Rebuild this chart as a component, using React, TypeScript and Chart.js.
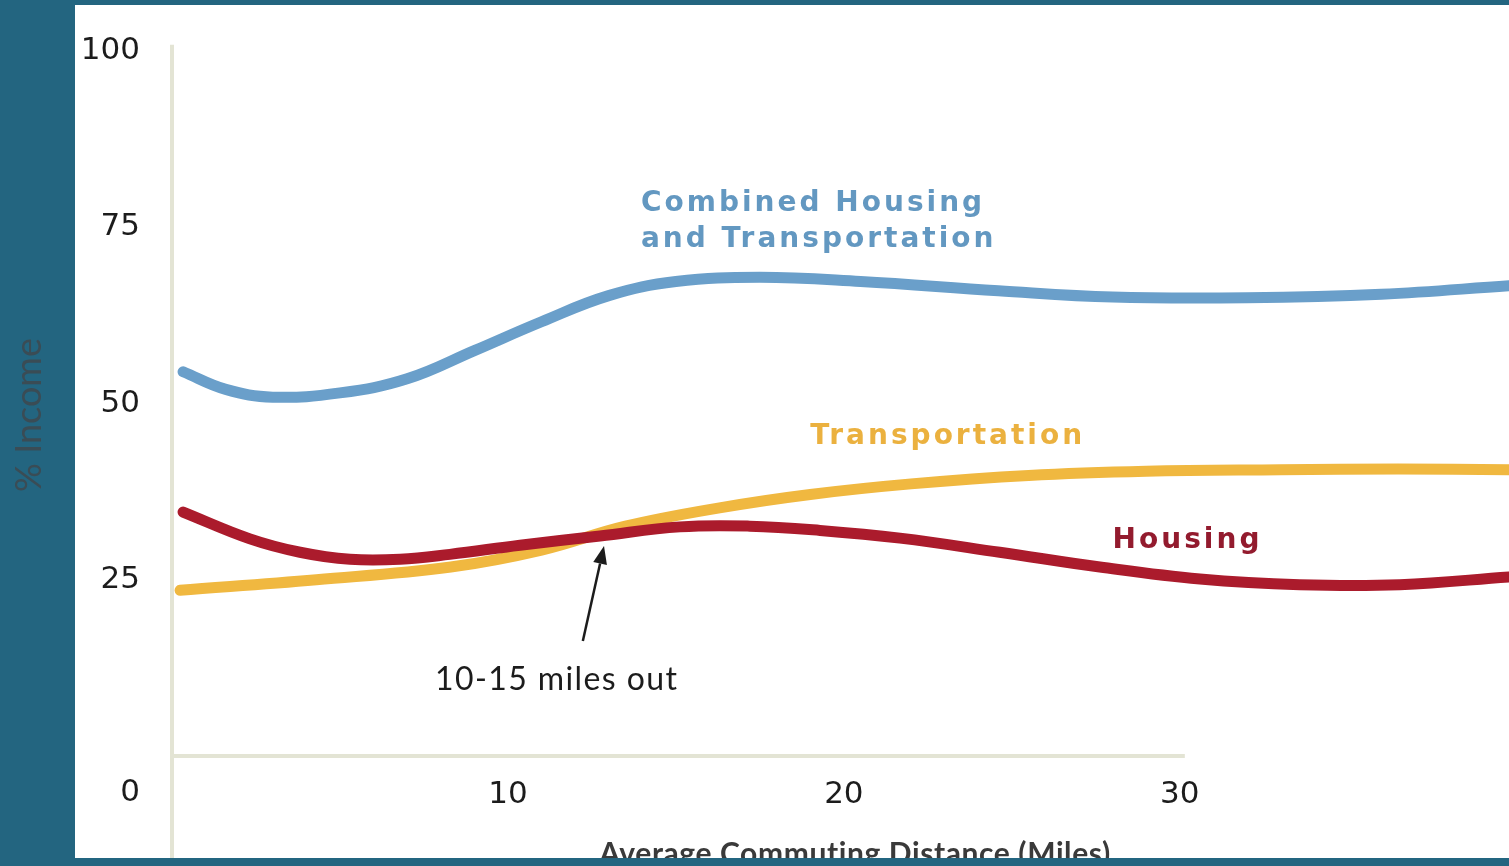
import { useEffect, useRef } from "react";
import { Chart, registerables } from "chart.js";

Chart.register(...registerables);

// ---------- data ----------
const xTicks = [10, 20, 30];
const yTicks = [25, 50, 75, 100];

const combinedX = [0.33, 1.6, 3.0, 5.0, 7.0, 9.0, 11.0, 13.0, 15.0, 17.5, 20.5, 24.6, 28.0, 32.0, 36.0, 39.8];
const combinedY = [54.5, 52.0, 50.9, 51.5, 53.5, 57.5, 61.6, 65.3, 67.3, 67.9, 67.3, 66.0, 65.1, 65.0, 65.5, 66.7];

const transX = [0.24, 4.3, 8.3, 11.0, 13.5, 16.3, 19.0, 22.0, 25.5, 29.0, 33.0, 36.5, 39.8];
const transY = [23.5, 25.0, 26.8, 29.2, 32.6, 35.2, 37.1, 38.6, 39.8, 40.4, 40.6, 40.7, 40.6];

const housingX = [0.33, 2.32, 3.81, 5.3, 6.79, 8.27, 10.36, 12.74, 15.12, 17.2, 19.29, 21.67, 24.64, 27.62, 30.6, 33.57, 36.55, 39.8];
const housingY = [34.6, 30.8, 28.9, 27.9, 27.9, 28.6, 29.9, 31.2, 32.5, 32.6, 32.0, 30.9, 28.9, 26.8, 25.1, 24.3, 24.3, 25.4];

const combinedLabel = ["Combined Housing", "and Transportation"];
const transLabel = "Transportation";
const housingLabel = "Housing";
const noteLabel = "10-15 miles out";
const xTitle = "Average Commuting Distance (Miles)";
const yTitle = "% Income";

// ---------- styles ----------
const TEAL = "#236580";
const BLUE = "#6a9fca";
const BLUE_TEXT = "#6398c1";
const YELLOW = "#f0b840";
const YELLOW_TEXT = "#ebb13f";
const RED = "#ab1b2c";
const RED_TEXT = "#931b2e";
const AXIS = "#e3e4d4";
const TICK_FONT = "DejaVu Sans";

const toPts = (xs: number[], ys: number[]) => xs.map((x, i) => ({ x, y: ys[i] }));

const decor = {
  id: "decor",
  beforeDraw(chart: any) {
    const { ctx, width, height } = chart;
    const xs = chart.scales.x;
    const ys = chart.scales.y;
    ctx.save();
    ctx.fillStyle = TEAL;
    ctx.fillRect(0, 0, width, height);
    ctx.fillStyle = "#ffffff";
    ctx.fillRect(75, 5, width - 75, 853);
    const x0 = xs.getPixelForValue(0);
    const y0 = ys.getPixelForValue(0);
    ctx.strokeStyle = AXIS;
    ctx.lineWidth = 4;
    ctx.beginPath();
    ctx.moveTo(x0, ys.getPixelForValue(100.9));
    ctx.lineTo(x0, 858);
    ctx.stroke();
    ctx.beginPath();
    ctx.moveTo(x0, y0);
    ctx.lineTo(xs.getPixelForValue(30.15), y0);
    ctx.stroke();
    ctx.restore();
  },
  afterDraw(chart: any) {
    const { ctx, width, height } = chart;
    const xs = chart.scales.x;
    const ys = chart.scales.y;
    const px = (v: number) => xs.getPixelForValue(v);
    const py = (v: number) => ys.getPixelForValue(v);
    ctx.save();

    // origin "0"
    ctx.font = `31px "${TICK_FONT}"`;
    ctx.fillStyle = "#1c1c1c";
    ctx.textAlign = "right";
    ctx.textBaseline = "middle";
    ctx.fillText("0", ys.right - 32, 793);

    // series labels
    ctx.textAlign = "left";
    ctx.textBaseline = "alphabetic";
    (ctx as any).letterSpacing = "3px";
    ctx.font = `bold 28px "DejaVu Sans"`;
    ctx.fillStyle = BLUE_TEXT;
    ctx.fillText(combinedLabel[0], px(13.96), py(77.3));
    ctx.fillText(combinedLabel[1], px(13.96), py(72.2));
    ctx.fillStyle = YELLOW_TEXT;
    ctx.fillText(transLabel, px(19.0), py(44.2));
    ctx.fillStyle = RED_TEXT;
    ctx.fillText(housingLabel, px(28.0), py(29.5));
    (ctx as any).letterSpacing = "0px";

    // note + arrow
    ctx.font = `32px Lato`;
    ctx.fillStyle = "#1c1c1c";
    (ctx as any).letterSpacing = "1.4px";
    ctx.fillText(noteLabel, px(7.83), py(9.4));
    (ctx as any).letterSpacing = "0px";

    const tx = px(12.23), ty = py(16.3);
    const hx = px(12.86), hy = py(29.8);
    const ang = Math.atan2(hy - ty, hx - tx);
    const headLen = 18, headW = 7;
    const bx = hx - headLen * Math.cos(ang), by = hy - headLen * Math.sin(ang);
    ctx.strokeStyle = "#1c1c1c";
    ctx.lineWidth = 2.5;
    ctx.beginPath();
    ctx.moveTo(tx, ty);
    ctx.lineTo(bx, by);
    ctx.stroke();
    ctx.fillStyle = "#1c1c1c";
    ctx.beginPath();
    ctx.moveTo(hx, hy);
    ctx.lineTo(bx + headW * Math.sin(ang), by - headW * Math.cos(ang));
    ctx.lineTo(bx - headW * Math.sin(ang), by + headW * Math.cos(ang));
    ctx.closePath();
    ctx.fill();

    // x axis title
    ctx.font = `bold 30px Lato`;
    ctx.fillStyle = "#3a3a3a";
    ctx.textAlign = "center";
    (ctx as any).letterSpacing = "0.6px";
    ctx.fillText(xTitle, px(20.33), 864);
    (ctx as any).letterSpacing = "0px";

    // bottom band (clips title)
    ctx.fillStyle = TEAL;
    ctx.fillRect(0, 858, width, height - 858);

    // y axis title
    ctx.save();
    ctx.translate(41, 415);
    ctx.rotate(-Math.PI / 2);
    ctx.font = `36px Lato`;
    ctx.fillStyle = "#3a4c55";
    ctx.textAlign = "center";
    ctx.textBaseline = "alphabetic";
    ctx.fillText(yTitle, 0, 0);
    ctx.restore();

    ctx.restore();
  },
};

export default function App() {
  const ref = useRef<HTMLCanvasElement>(null);
  useEffect(() => {
    if (!ref.current) return;
    const lineStyle = {
      borderWidth: 11,
      pointRadius: 0,
      borderCapStyle: "round" as const,
      borderJoinStyle: "round" as const,
      tension: 0.4,
      fill: false,
    };
    const chart = new Chart(ref.current, {
      type: "line",
      data: {
        datasets: [
          { label: "Combined Housing and Transportation", data: toPts(combinedX, combinedY), borderColor: BLUE, ...lineStyle },
          { label: "Housing", data: toPts(housingX, housingY), borderColor: RED, ...lineStyle },
          { label: "Transportation", data: toPts(transX, transY), borderColor: YELLOW, ...lineStyle },
        ],
      },
      options: {
        animation: false,
        responsive: false,
        devicePixelRatio: 1,
        layout: { padding: { top: 51, left: 0, right: 0, bottom: 0 } },
        plugins: { legend: { display: false }, tooltip: { enabled: false } },
        scales: {
          x: {
            type: "linear",
            min: 0,
            max: 39.8,
            grid: { display: false, drawTicks: false },
            border: { display: false },
            ticks: {
              font: { family: TICK_FONT, size: 31 },
              color: "#1c1c1c",
              padding: 20,
              maxRotation: 0,
              autoSkip: false,
            },
            afterBuildTicks: (s: any) => {
              s.ticks = xTicks.map((v) => ({ value: v }));
            },
            afterFit: (s: any) => {
              s.height = 110;
            },
          },
          y: {
            type: "linear",
            min: 0,
            max: 100,
            grid: { display: false, drawTicks: false },
            border: { display: false },
            ticks: {
              font: { family: TICK_FONT, size: 31 },
              color: "#1c1c1c",
              padding: 32,
              autoSkip: false,
            },
            afterBuildTicks: (s: any) => {
              s.ticks = yTicks.map((v) => ({ value: v }));
            },
            afterFit: (s: any) => {
              s.width = 172;
            },
          },
        },
      },
      plugins: [decor],
    });
    return () => chart.destroy();
  }, []);
  return (
    <div style={{ position: "fixed", left: 0, top: 0, width: 1509, height: 866 }}>
      <canvas ref={ref} width={1509} height={866} style={{ display: "block" }} />
    </div>
  );
}
